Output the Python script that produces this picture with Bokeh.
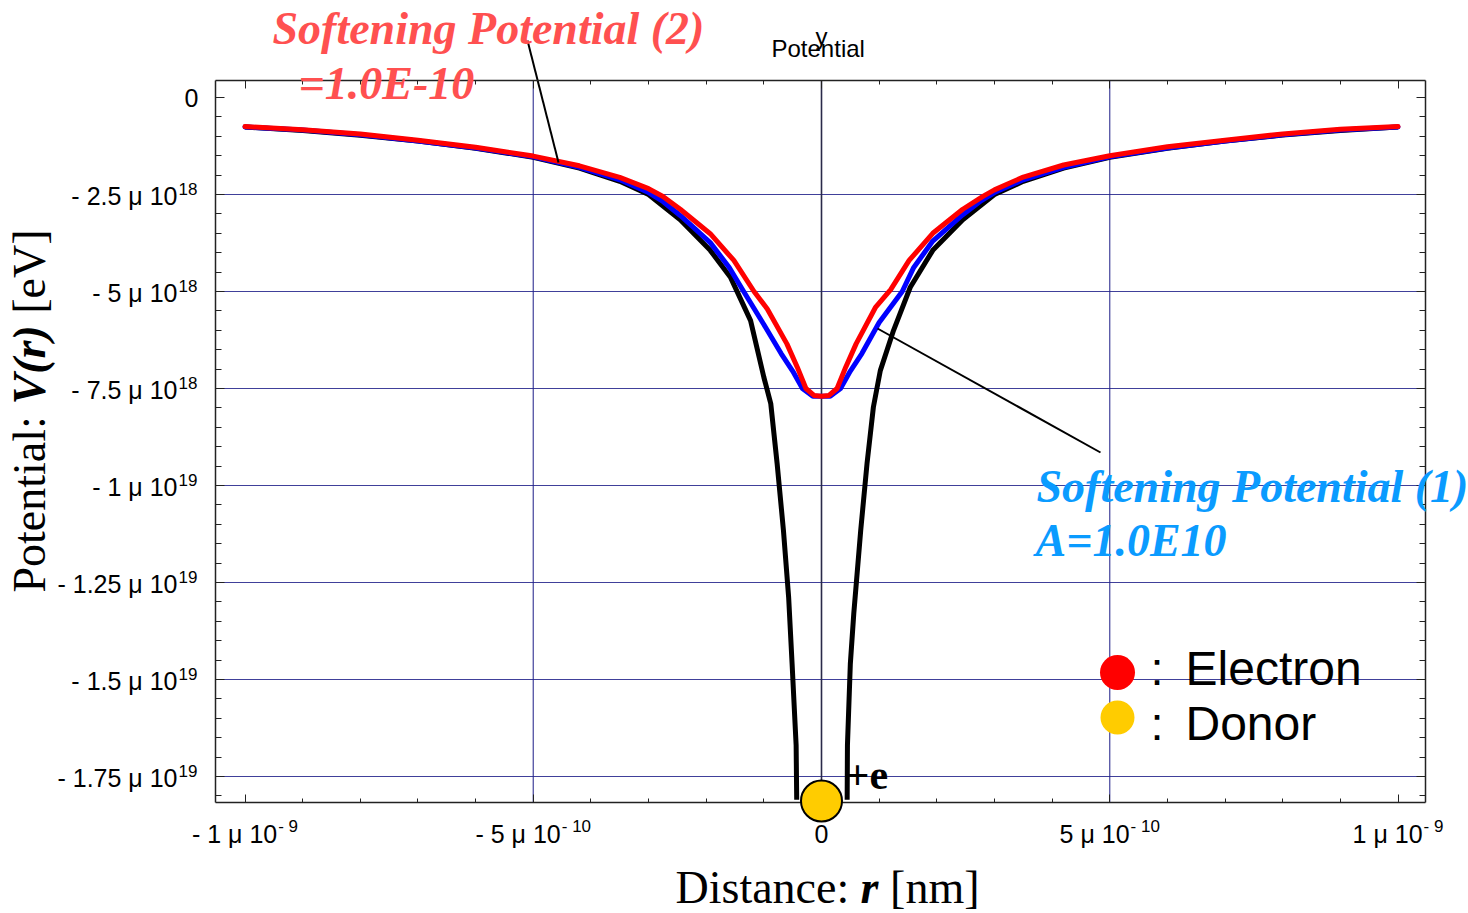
import numpy as np
from bokeh.plotting import figure
from bokeh.models import Range1d, FixedTicker, LinearAxis, Label
from bokeh.embed import file_html
from bokeh.resources import INLINE

# ---------------- data (distance r in m, potential V in eV) ----------------
black_left_r = [-10.0e-10, -9.0e-10, -8.0e-10, -7.0e-10, -6.0e-10, -5.0e-10, -4.2e-10, -3.5e-10,
                -3.0e-10, -2.45e-10, -1.93e-10, -1.58e-10, -1.23e-10, -1.0e-10, -0.88e-10,
                -0.77e-10, -0.66e-10, -0.57e-10, -0.51e-10, -0.44e-10, -0.43e-10]
black_left_v = [-0.76e18, -0.85e18, -0.97e18, -1.12e18, -1.31e18, -1.54e18, -1.82e18, -2.16e18,
                -2.50e18, -3.15e18, -3.94e18, -4.63e18, -5.75e18, -7.21e18, -7.89e18,
                -9.43e18, -11.16e18, -12.88e18, -14.6e18, -16.7e18, -18.1e18]
black_right_r = [0.445e-10, 0.45e-10, 0.5e-10, 0.56e-10, 0.68e-10, 0.79e-10, 0.9e-10, 1.02e-10,
                 1.25e-10, 1.54e-10, 1.93e-10, 2.45e-10, 3.0e-10, 3.5e-10, 4.2e-10, 5.0e-10,
                 6.0e-10, 7.0e-10, 8.0e-10, 9.0e-10, 10.0e-10]
black_right_v = [-18.1e18, -16.7e18, -14.6e18, -13.3e18, -11.16e18, -9.43e18, -7.98e18, -7.04e18,
                 -6.0e18, -4.89e18, -3.94e18, -3.15e18, -2.50e18, -2.16e18, -1.82e18, -1.54e18,
                 -1.31e18, -1.12e18, -0.97e18, -0.85e18, -0.76e18]

blue_r = [-10.0e-10, -9.0e-10, -8.0e-10, -7.0e-10, -6.0e-10, -5.0e-10, -4.2e-10, -3.5e-10,
          -3.0e-10, -2.75e-10, -2.45e-10, -1.93e-10, -1.6e-10, -1.35e-10, -1.0e-10, -0.7e-10,
          -0.5e-10, -0.33e-10, -0.15e-10, 0.0,
          0.15e-10, 0.33e-10, 0.5e-10, 0.7e-10, 1.0e-10, 1.4e-10, 1.6e-10, 1.93e-10, 2.45e-10,
          2.75e-10, 3.0e-10, 3.5e-10, 4.2e-10, 5.0e-10, 6.0e-10, 7.0e-10, 8.0e-10, 9.0e-10, 10.0e-10]
blue_v = [-0.76e18, -0.84e18, -0.96e18, -1.12e18, -1.30e18, -1.53e18, -1.80e18, -2.12e18,
          -2.45e18, -2.68e18, -3.04e18, -3.74e18, -4.38e18, -5.00e18, -5.85e18, -6.60e18,
          -7.05e18, -7.50e18, -7.70e18, -7.70e18,
          -7.70e18, -7.50e18, -7.05e18, -6.60e18, -5.80e18, -5.00e18, -4.38e18, -3.70e18, -3.02e18,
          -2.68e18, -2.45e18, -2.12e18, -1.80e18, -1.53e18, -1.30e18, -1.12e18, -0.96e18, -0.84e18, -0.76e18]

red_r = [-10.0e-10, -9.0e-10, -8.0e-10, -7.0e-10, -6.0e-10, -5.0e-10, -4.2e-10, -3.5e-10,
         -3.0e-10, -2.75e-10, -2.45e-10, -1.93e-10, -1.52e-10, -1.17e-10, -0.94e-10, -0.6e-10,
         -0.42e-10, -0.27e-10, -0.13e-10, 0.0,
         0.13e-10, 0.27e-10, 0.42e-10, 0.6e-10, 0.94e-10, 1.2e-10, 1.52e-10, 1.93e-10, 2.45e-10,
         2.8e-10, 3.0e-10, 3.5e-10, 4.2e-10, 5.0e-10, 6.0e-10, 7.0e-10, 8.0e-10, 9.0e-10, 10.0e-10]
red_v = [-0.75e18, -0.83e18, -0.94e18, -1.10e18, -1.28e18, -1.51e18, -1.76e18, -2.06e18,
         -2.35e18, -2.55e18, -2.88e18, -3.51e18, -4.20e18, -5.00e18, -5.45e18, -6.35e18,
         -6.95e18, -7.50e18, -7.68e18, -7.70e18,
         -7.68e18, -7.50e18, -6.95e18, -6.35e18, -5.40e18, -4.95e18, -4.20e18, -3.50e18, -2.88e18,
         -2.55e18, -2.38e18, -2.05e18, -1.74e18, -1.50e18, -1.27e18, -1.10e18, -0.94e18, -0.82e18, -0.75e18]

x_major = [-1e-9, -5e-10, 0.0, 5e-10, 1e-9]
x_tick_main = ["- 1 μ 10", "- 5 μ 10", "0", "5 μ 10", "1 μ 10"]
x_tick_exp = ["- 9", "- 10", "", "- 10", "- 9"]
y_major = [0.0, -2.5e18, -5e18, -7.5e18, -1e19, -1.25e19, -1.5e19, -1.75e19]
y_tick_main = ["0", "- 2.5 μ 10", "- 5 μ 10", "- 7.5 μ 10", "- 1 μ 10",
               "- 1.25 μ 10", "- 1.5 μ 10", "- 1.75 μ 10"]
y_tick_exp = ["", "18", "18", "18", "19", "19", "19", "19"]
x_minor = [k * 1e-10 for k in range(-10, 11)]
y_minor = [k * 5e17 for k in range(-36, 1)]
x_grid = [-5e-10, 5e-10]
y_grid = y_major[1:]

# ---------------- layout geometry (pixels of the 1468x913 canvas) ----------------
W, H = 1468, 913
FL, FR, FT, FB = 215, 1425, 80, 802          # visible plot box
X0PX, XSCALE = 821.0, 576.5 / 1e-9
Y0PX, YSCALE = 97.0, 97.0 / 2.5e18


def px_x(px):
    return (px - X0PX) / XSCALE


def px_y(py):
    return (Y0PX - py) / YSCALE


def x_px(v):
    return X0PX + v * XSCALE


def y_px(v):
    return Y0PX - v * YSCALE


p = figure(width=W, height=H, title=None,
           x_range=Range1d(px_x(0), px_x(W)), y_range=Range1d(px_y(H), px_y(0)),
           output_backend="svg", toolbar_location=None, min_border=0)
p.background_fill_color = "white"
p.border_fill_color = "white"
p.outline_line_color = None
p.xgrid.visible = False
p.ygrid.visible = False

FRAME = "#222222"
xb = (px_x(FL), px_x(FR))
yb = (px_y(FB), px_y(FT))

bottom = p.xaxis[0]
left = p.yaxis[0]
top = LinearAxis()
right = LinearAxis()
p.add_layout(top, "above")
p.add_layout(right, "right")

for ax, loc in ((bottom, px_y(FB)), (top, px_y(FT))):
    ax.ticker = FixedTicker(ticks=x_major, minor_ticks=x_minor)
    ax.fixed_location = loc
    ax.bounds = xb
    ax.major_tick_in, ax.major_tick_out = 8, 0
    ax.minor_tick_in, ax.minor_tick_out = 4, 0
for ax, loc in ((left, px_x(FL)), (right, px_x(FR))):
    ax.ticker = FixedTicker(ticks=y_major, minor_ticks=y_minor)
    ax.fixed_location = loc
    ax.bounds = yb
    ax.major_tick_in, ax.major_tick_out = 9, 0
    ax.minor_tick_in, ax.minor_tick_out = 6, 0
for ax in (bottom, top, left, right):
    ax.axis_line_color = FRAME
    ax.axis_line_width = 1.5
    ax.major_tick_line_color = FRAME
    ax.minor_tick_line_color = FRAME
    ax.major_label_text_color = None

# grid lines and the y axis through r = 0
GRID = "#1e1e88"
p.segment(x0=x_grid, y0=[yb[0]] * len(x_grid), x1=x_grid, y1=[yb[1]] * len(x_grid),
          line_color=GRID, line_alpha=0.85, line_width=1.2)
p.segment(x0=[xb[0]] * len(y_grid), y0=y_grid, x1=[xb[1]] * len(y_grid), y1=y_grid,
          line_color=GRID, line_alpha=0.85, line_width=1.2)
p.segment(x0=[0.0], y0=[yb[0]], x1=[0.0], y1=[yb[1]], line_color="#2a2a4a", line_width=1.6)

# ---------------- curves ----------------
p.line(black_left_r, black_left_v, line_color="black", line_width=5, line_join="round")
p.line(black_right_r, black_right_v, line_color="black", line_width=5, line_join="round")
p.line(blue_r, blue_v, line_color="#0000ff", line_width=5, line_join="round", line_cap="round")
p.line(red_r, red_v, line_color="#ff0000", line_width=5, line_join="round", line_cap="round")

# ---------------- texts ----------------
SERIF = "Liberation Serif"
SANS = "Liberation Sans"
BASE_K = 0.36       # baseline correction (fraction of font size)
SANS_W = {"-": 0.333, " ": 0.278, ".": 0.278, "μ": 0.576}


def sans_width(s, size):
    return sum(SANS_W.get(c, 0.556) for c in s) * size


def lab(px, py, text, font, size, color="black", style="normal", angle=0.0, align="left"):
    k = BASE_K * size
    if angle == 0.0:
        ax_, ay_ = px, py - k
    else:
        ax_, ay_ = px - k, py
    p.add_layout(Label(x=px_x(ax_), y=px_y(ay_), text=text, text_font=font,
                       text_font_size="%gpx" % size, text_color=color, text_font_style=style,
                       text_align=align, text_baseline="alphabetic", angle=angle))


# tick labels
for v, main, sup in zip(y_major, y_tick_main, y_tick_exp):
    ty = y_px(v)
    if sup:
        lab(177, ty + 10, main, SANS, 25, align="right")
        lab(178, ty + 1, sup, SANS, 17)
    else:
        lab(198, ty + 9, main, SANS, 25, align="right")
for v, main, sup in zip(x_major, x_tick_main, x_tick_exp):
    tx = x_px(v)
    if sup:
        wm, ws = sans_width(main, 25), sans_width(sup, 17)
        rx = tx + (wm + 1 + ws) / 2 - ws - 1
        lab(rx, 842, main, SANS, 25, align="right")
        lab(rx + 1, 832, sup, SANS, 17)
    else:
        lab(tx, 842, main, SANS, 25, align="center")

# leader lines
p.segment(x0=[px_x(527), px_x(877)], y0=[px_y(40), px_y(328)],
          x1=[px_x(558), px_x(1100)], y1=[px_y(162), px_y(452)],
          line_color="black", line_width=2)

lab(272, 45, "Softening Potential (2)", SERIF, 46, "#ff5050", "bold italic")
lab(298, 100, "=1.0E-10", SERIF, 46, "#ff5050", "bold italic")
lab(1036, 503, "Softening Potential (1)", SERIF, 46, "#0a9bff", "bold italic")
lab(1035, 557, "A=1.0E10", SERIF, 46, "#0a9bff", "bold italic")

lab(815, 45, "y", SANS, 24)
lab(771, 57, "Potential", SANS, 24)

# axis titles
lab(675, 904, "Distance:", SERIF, 46)
lab(860, 904, "r", SERIF, 46, style="bold italic")
lab(889.6, 904, "[nm]", SERIF, 46)
lab(46, 592, "Potential:", SERIF, 46, angle=np.pi / 2)
lab(46, 404, "V(r)", SERIF, 46, style="bold italic", angle=np.pi / 2)
lab(46, 313.3, "[eV]", SERIF, 46, angle=np.pi / 2)

# legend
p.scatter([px_x(1117)], [px_y(672)], size=35, fill_color="#ff0000", line_color=None)
p.scatter([px_x(1117)], [px_y(717)], size=34, fill_color="#ffcc00", line_color=None)
lab(1150, 685, ":", SANS, 47)
lab(1185, 685, "Electron", SANS, 48)
lab(1150, 740, ":", SANS, 47)
lab(1185, 740, "Donor", SANS, 48)

# donor (+e)
p.scatter([0.0], [px_y(800.5)], size=41, fill_color="#ffcc00", line_color="black",
          line_width=2, level="overlay")
lab(845, 790, "+e", SERIF, 42, style="bold")

open("out.html", "w").write(file_html(p, INLINE))
